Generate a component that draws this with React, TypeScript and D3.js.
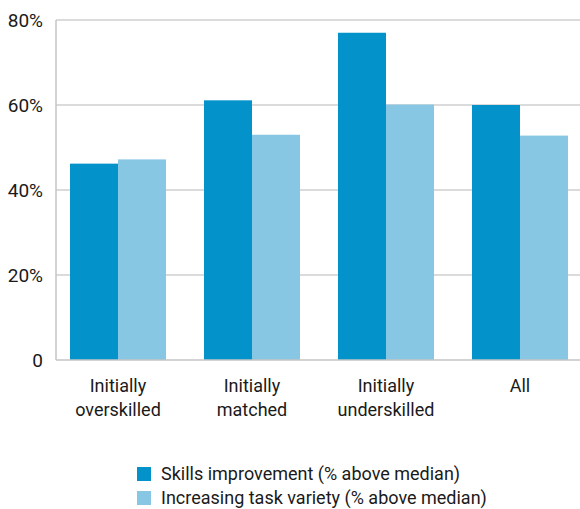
import React from "react";
import * as d3 from "d3";

const categories = [["Initially", "overskilled"], ["Initially", "matched"], ["Initially", "underskilled"], ["All"]];
const categoryKeys = ["over", "matched", "under", "all"];
const skillsImprovement = [46.2, 61.1, 77.0, 60.0];
const taskVariety = [47.2, 53.0, 60.1, 52.8];
const yTicks = [0, 20, 40, 60, 80];
const seriesNames = ["Skills improvement (% above median)", "Increasing task variety (% above median)"];
const colors = ["#0392c9", "#87c7e4"];

const W = 580, H = 509;
const FONT = "'Liberation Sans Narrow', 'Arial Narrow', 'Roboto', sans-serif";

export default function App() {
  const x = d3.scaleBand<string>().domain(categoryKeys).range([51, 587]).paddingInner(0.2836).paddingOuter(0.1418);
  const y = d3.scaleLinear().domain([0, 80]).range([360, 20]);
  const bw = x.bandwidth() / 2;
  const series = [skillsImprovement, taskVariety];
  return (
    <svg width={W} height={H} style={{ position: "absolute", left: 0, top: 0, background: "#fff" }}>
      {yTicks.map((t) => (
        <g key={t}>
          {t > 0 && <line x1={56} x2={W} y1={y(t)} y2={y(t)} stroke="#cfcfcf" strokeWidth={1.5} />}
          <text x={43} y={y(t)} dy="0.35em" textAnchor="end" fontFamily={FONT} fontSize={19} fill="#1a1a1a">
            {t === 0 ? "0" : `${t}%`}
          </text>
        </g>
      ))}
      {series.map((vals, si) =>
        vals.map((v, i) => (
          <rect key={`${si}-${i}`} x={(x(categoryKeys[i]) ?? 0) + si * bw} y={y(v)} width={bw} height={y(0) - y(v)} fill={colors[si]} />
        ))
      )}
      <line x1={56} x2={W} y1={y(0)} y2={y(0)} stroke="#c4c4c4" strokeWidth={1.5} />
      <line x1={56} x2={56} y1={y(80)} y2={y(0)} stroke="#c4c4c4" strokeWidth={1.5} />
      {categories.map((lines, i) => (
        <text key={i} textAnchor="middle" fontFamily={FONT} fontSize={18} fill="#1a1a1a">
          {lines.map((l, j) => (
            <tspan key={j} x={(x(categoryKeys[i]) ?? 0) + x.bandwidth() / 2} y={392 + j * 24}>{l}</tspan>
          ))}
        </text>
      ))}
      {seriesNames.map((n, i) => (
        <g key={n}>
          <rect x={137} y={467 + i * 24} width={14} height={14} fill={colors[i]} />
          <text x={161} y={474 + i * 24} dy="0.35em" fontFamily={FONT} fontSize={18} fill="#1a1a1a">{n}</text>
        </g>
      ))}
    </svg>
  );
}
